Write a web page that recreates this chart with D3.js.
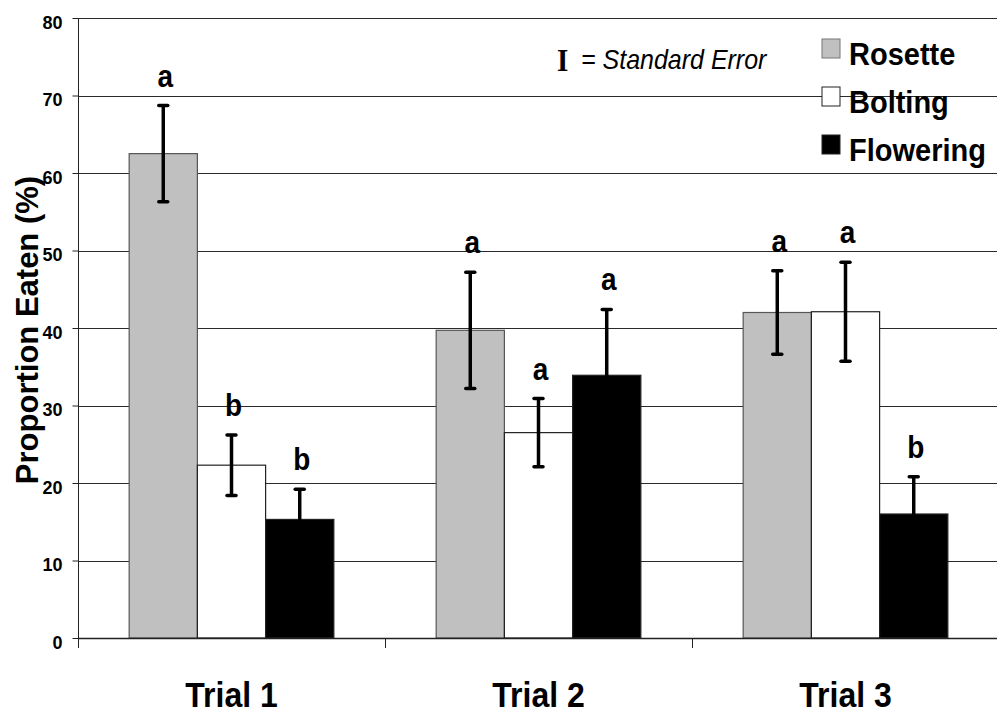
<!DOCTYPE html>
<html>
<head>
<meta charset="utf-8">
<script src="https://cdn.jsdelivr.net/npm/d3@7"></script>
<style>
  body { margin: 0; background: #fff; }
</style>
</head>
<body>
<svg width="997" height="715" font-family="Arial, 'Liberation Sans', Helvetica, sans-serif"></svg>
<script>
var trials = ["Trial 1", "Trial 2", "Trial 3"];
var stages = ["Rosette", "Bolting", "Flowering"];

var rosette = [62.5, 39.7, 42.0];
var bolting = [22.3, 26.5, 42.1];
var flowering = [15.3, 33.9, 16.0];

var rosetteSE = [6.2, 7.5, 5.4];
var boltingSE = [3.9, 4.4, 6.4];
var floweringSE = [3.9, 8.5, 4.8];

var rosetteLetters = ["a", "a", "a"];
var boltingLetters = ["b", "a", "a"];
var floweringLetters = ["b", "a", "b"];

var yTicks = [0, 10, 20, 30, 40, 50, 60, 70, 80];

var svg = d3.select("svg"),
  width = +svg.attr("width"),
  height = +svg.attr("height");

var colors = { Rosette: "#c0c0c0", Bolting: "#ffffff", Flowering: "#000000" };
var strokes = { Rosette: "#555555", Bolting: "#222222", Flowering: "#222222" };

// build rows from the arrays
var vals = [rosette, bolting, flowering];
var ses = [rosetteSE, boltingSE, floweringSE];
var letters = [rosetteLetters, boltingLetters, floweringLetters];
var rows = [];
trials.forEach(function (t, i) {
  stages.forEach(function (s, j) {
    rows.push({ trial: t, stage: s, value: vals[j][i], se: ses[j][i], letter: letters[j][i] });
  });
});

var plotLeft = 78, plotRight = 999, plotTop = 18, plotBottom = 638;

var y = d3.scaleLinear().domain([0, 80]).range([plotBottom, plotTop]);
var x = d3.scaleBand().domain(trials).range([plotLeft, plotRight]);
var x1 = d3.scaleBand().domain(stages).range([0, x.bandwidth()]).paddingOuter(0.75);

// gridlines
svg.append("g")
  .selectAll("line")
  .data(yTicks.filter(function (d) { return d > 0; }))
  .enter()
  .append("line")
  .attr("x1", plotLeft)
  .attr("x2", 997)
  .attr("y1", function (d) { return Math.round(y(d)) + 0.5; })
  .attr("y2", function (d) { return Math.round(y(d)) + 0.5; })
  .attr("stroke", "#2a2a2a")
  .attr("stroke-width", 1);

// bars
svg.append("g")
  .selectAll("rect")
  .data(rows)
  .enter()
  .append("rect")
  .attr("x", function (d) { return x(d.trial) + x1(d.stage); })
  .attr("y", function (d) { return y(d.value); })
  .attr("width", x1.bandwidth())
  .attr("height", function (d) { return y(0) - y(d.value); })
  .attr("fill", function (d) { return colors[d.stage]; })
  .attr("stroke", function (d) { return strokes[d.stage]; })
  .attr("stroke-width", 1.2);

// error bars
var eb = svg.append("g").attr("stroke", "#000").attr("stroke-width", 3.5);
rows.forEach(function (d) {
  var cx = x(d.trial) + x1(d.stage) + x1.bandwidth() / 2;
  eb.append("line")
    .attr("x1", cx).attr("x2", cx)
    .attr("y1", y(d.value + d.se)).attr("y2", y(d.value - d.se));
  [d.value + d.se, d.value - d.se].forEach(function (v) {
    eb.append("line")
      .attr("x1", cx - 4.5).attr("x2", cx + 4.5)
      .attr("y1", y(v)).attr("y2", y(v))
      .attr("stroke-linecap", "round");
  });
});

// significance letters
svg.append("g")
  .selectAll("text")
  .data(rows)
  .enter()
  .append("text")
  .attr("transform", function (d) {
    var cx = x(d.trial) + x1(d.stage) + x1.bandwidth() / 2 + 2;
    return "translate(" + cx + "," + (y(d.value + d.se) - 19) + ") scale(1,1.1)";
  })
  .attr("text-anchor", "middle")
  .attr("font-size", 28)
  .attr("font-weight", "bold")
  .text(function (d) { return d.letter; });

// y axis
var yAxis = d3.axisLeft(y).tickValues(yTicks).tickSize(6).tickSizeOuter(0);
var gy = svg.append("g").attr("transform", "translate(" + (plotLeft + 0.5) + ",0)").call(yAxis);
gy.attr("font-family", null).attr("font-size", null);
gy.select(".domain").remove();
gy.selectAll(".tick line").attr("stroke", "#222");
gy.selectAll(".tick text")
  .attr("x", -16)
  .attr("dy", null)
  .attr("y", 10)
  .attr("font-size", 18)
  .attr("font-weight", "bold")
  .attr("fill", "#000");
svg.append("line")
  .attr("x1", plotLeft + 0.5).attr("x2", plotLeft + 0.5)
  .attr("y1", plotTop).attr("y2", plotBottom + 10)
  .attr("stroke", "#222");

// x axis line and boundary ticks
svg.append("line")
  .attr("x1", plotLeft).attr("x2", 997)
  .attr("y1", plotBottom + 0.5).attr("y2", plotBottom + 0.5)
  .attr("stroke", "#222").attr("stroke-width", 1.5);
svg.append("g")
  .selectAll("line")
  .data(trials.slice(1))
  .enter()
  .append("line")
  .attr("x1", function (d) { return Math.round(x(d)) + 0.5; })
  .attr("x2", function (d) { return Math.round(x(d)) + 0.5; })
  .attr("y1", plotBottom).attr("y2", plotBottom + 10)
  .attr("stroke", "#222");

svg.append("g")
  .selectAll("text")
  .data(trials)
  .enter()
  .append("text")
  .attr("transform", function (d) {
    return "translate(" + (x(d) + x.bandwidth() / 2) + ",707) scale(1,1.1)";
  })
  .attr("text-anchor", "middle")
  .attr("font-size", 32)
  .attr("font-weight", "bold")
  .text(function (d) { return d; });

// y title
svg.append("text")
  .attr("transform", "translate(38,330) rotate(-90)")
  .attr("text-anchor", "middle")
  .attr("font-size", 31)
  .attr("font-weight", "bold")
  .text("Proportion Eaten (%)");

// standard error note
svg.append("text")
  .attr("transform", "translate(557,71) scale(1,1.1)")
  .attr("font-family", "'Liberation Serif', 'DejaVu Serif', 'Times New Roman', serif")
  .attr("font-size", 29)
  .attr("font-weight", "bold")
  .text("I");
svg.append("text")
  .attr("transform", "translate(581,69) scale(1,1.1)")
  .attr("font-size", 25)
  .attr("font-style", "italic")
  .text("= Standard Error");

// legend
var legend = svg.append("g").attr("transform", "translate(822,39)");
var li = legend.selectAll("g")
  .data(stages)
  .enter()
  .append("g")
  .attr("transform", function (d, i) { return "translate(0," + i * 48 + ")"; });
li.append("rect")
  .attr("width", 18)
  .attr("height", 19)
  .attr("fill", function (d) { return colors[d]; })
  .attr("stroke", function (d) { return d === "Rosette" ? "#777" : "#222"; });
li.append("text")
  .attr("transform", "translate(27,26) scale(1,1.1)")
  .attr("font-size", 29)
  .attr("font-weight", "bold")
  .text(function (d) { return d; });
</script>
</body>
</html>
